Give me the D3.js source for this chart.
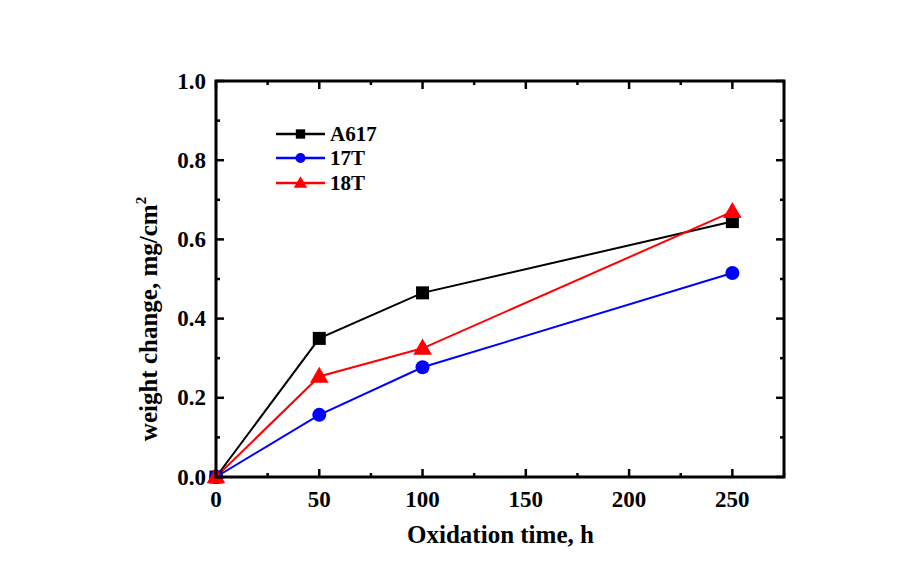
<!DOCTYPE html>
<html><head><meta charset="utf-8">
<script src="https://cdn.jsdelivr.net/npm/d3@7"></script>
<style>body{margin:0;background:#fff}</style></head>
<body><svg id="c" width="902" height="583"></svg>
<script>
const times = [0, 50, 100, 250];
const a617 = [0.0, 0.35, 0.465, 0.645];
const t17 = [0.0, 0.157, 0.277, 0.515];
const t18 = [0.0, 0.254, 0.325, 0.67];
const seriesNames = ["A617", "17T", "18T"];
const seriesColors = ["#000000", "#0000ff", "#ff0000"];
const seriesShapes = ["square", "circle", "triangle"];
const xTicks = [0, 50, 100, 150, 200, 250];
const yTicks = [0.0, 0.2, 0.4, 0.6, 0.8, 1.0];

const svg = d3.select("#c");
const L = 216, R = 784, T = 81, B = 477;
const x = d3.scaleLinear().domain([0, 275]).range([L, R]);
const y = d3.scaleLinear().domain([0, 1]).range([B, T]);
const font = "'Liberation Serif','Times New Roman',serif";

const series = [a617, t17, t18];
const line = d3.line().x((d, i) => x(times[i])).y(d => y(d));
series.forEach((s, k) => {
  svg.append("path").datum(s).attr("d", line).attr("fill", "none")
    .attr("stroke", seriesColors[k]).attr("stroke-width", 2);
});
function marker(g, shape, cx, cy, color, sc) {
  sc = sc || 1;
  if (shape === "square") g.append("rect").attr("x", cx - 6.5 * sc).attr("y", cy - 6.5 * sc).attr("width", 13 * sc).attr("height", 13 * sc).attr("fill", color);
  else if (shape === "circle") g.append("circle").attr("cx", cx).attr("cy", cy).attr("r", 7 * sc).attr("fill", color);
  else g.append("path").attr("d", d3.symbol(d3.symbolTriangle, 150 * sc * sc)()).attr("transform", `translate(${cx},${cy + 1})`).attr("fill", color);
}
series.forEach((s, k) => {
  const g = svg.append("g");
  s.forEach((v, i) => marker(g, seriesShapes[k], x(times[i]), y(v), seriesColors[k]));
});

// axes
const axG = svg.append("g").attr("stroke", "#000");
axG.append("rect").attr("x", L).attr("y", T).attr("width", R - L).attr("height", B - T)
  .attr("fill", "none").attr("stroke-width", 3);
const xMinor = d3.range(25, 276, 50);
const yMinor = d3.range(0.1, 1.0, 0.2);
function xt(t, len) {
  axG.append("line").attr("x1", x(t)).attr("x2", x(t)).attr("y1", B).attr("y2", B - len).attr("stroke-width", 2.5);
  axG.append("line").attr("x1", x(t)).attr("x2", x(t)).attr("y1", T).attr("y2", T + len).attr("stroke-width", 2.5);
}
function yt(t, len) {
  axG.append("line").attr("x1", L).attr("x2", L + len).attr("y1", y(t)).attr("y2", y(t)).attr("stroke-width", 2.5);
  axG.append("line").attr("x1", R).attr("x2", R - len).attr("y1", y(t)).attr("y2", y(t)).attr("stroke-width", 2.5);
}
xTicks.forEach(t => xt(t, 8));
xMinor.forEach(t => xt(t, 4));
yTicks.forEach(t => yt(t, 8));
yMinor.forEach(t => yt(t, 4));

svg.append("g").selectAll("text").data(xTicks).join("text")
  .attr("x", d => x(d)).attr("y", B + 30).attr("text-anchor", "middle")
  .attr("font-family", font).attr("font-weight", "bold").attr("font-size", 23).text(d => d);
svg.append("g").selectAll("text").data(yTicks).join("text")
  .attr("x", L - 10).attr("y", d => y(d) + 7.5).attr("text-anchor", "end")
  .attr("font-family", font).attr("font-weight", "bold").attr("font-size", 23).text(d => d.toFixed(1));

svg.append("text").attr("x", 500.5).attr("y", 543).attr("text-anchor", "middle")
  .attr("font-family", font).attr("font-weight", "bold").attr("font-size", 25).text("Oxidation time, h");
const yl = svg.append("text").attr("transform", `translate(157,319) rotate(-90)`)
  .attr("text-anchor", "middle").attr("font-family", font).attr("font-weight", "bold").attr("font-size", 25);
yl.append("tspan").text("weight change, mg/cm");
yl.append("tspan").attr("dy", -11).attr("font-size", 15).text("2");

// legend
const legY = [134, 158, 183];
seriesNames.forEach((n, k) => {
  const g = svg.append("g");
  g.append("line").attr("x1", 276).attr("x2", 325).attr("y1", legY[k]).attr("y2", legY[k])
    .attr("stroke", seriesColors[k]).attr("stroke-width", 2.5);
  marker(g, seriesShapes[k], 300.5, legY[k], seriesColors[k], 0.72);
  g.append("text").attr("x", 330).attr("y", legY[k] + 7).attr("font-family", font)
    .attr("font-weight", "bold").attr("font-size", 21).text(n);
});
</script></body></html>
